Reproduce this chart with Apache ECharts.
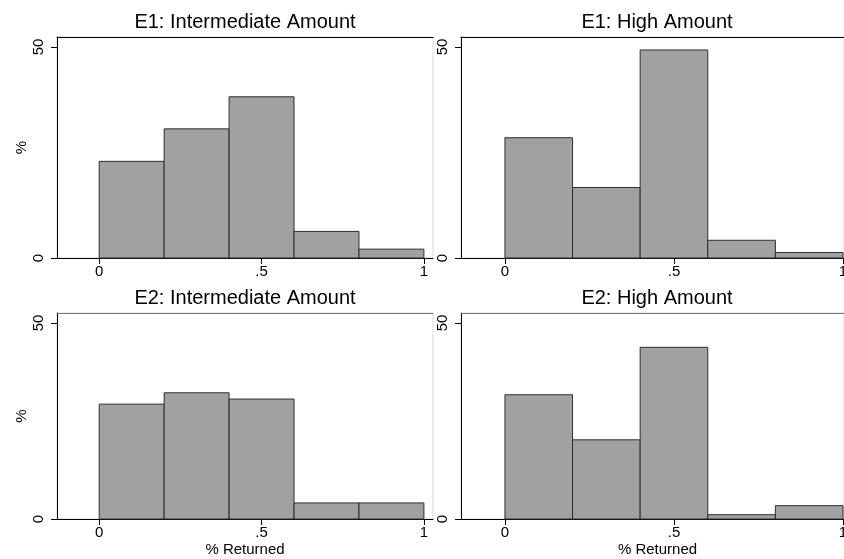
<!DOCTYPE html>
<html><head><meta charset="utf-8">
<script src="https://cdn.jsdelivr.net/npm/echarts@6/dist/echarts.min.js"></script>
<style>html,body{margin:0;padding:0;background:#fff}#c{width:844px;height:559px}</style>
</head><body><div id="c"></div>
<script>
const panelTitles = ['E1: Intermediate Amount', 'E1: High Amount', 'E2: Intermediate Amount', 'E2: High Amount'];
const binEdges = [0, 0.2, 0.4, 0.6, 0.8, 1.0];
const e1Intermediate = [22.9, 30.6, 38.2, 6.3, 2.1];
const e1High = [28.5, 16.7, 49.3, 4.2, 1.3];
const e2Intermediate = [29.3, 32.2, 30.6, 4.1, 4.1];
const e2High = [31.7, 20.2, 43.8, 1.1, 3.4];
const xTickValues = [0, 0.5, 1];
const xTickLabels = ['0', '.5', '1'];
const yTickValues = [0, 50];
const yTickLabels = ['0', '50'];
const yAxisName = '%';
const xAxisName = '% Returned';

const panelData = [e1Intermediate, e1High, e2Intermediate, e2High];
const FONT = 'Liberation Sans, Arial, sans-serif';
const layouts = [
  {left: 57, right: 411, top: 37, bottom: 301, xMax: 1.028, yMax: 52.37, topColor: '#000', showY: true, showX: false, namePad: 0},
  {left: 461, right: 0, top: 37, bottom: 301, xMax: 1.003, yMax: 52.37, topColor: '#000', showY: false, showX: false, namePad: 10},
  {left: 57, right: 411, top: 313, bottom: 40, xMax: 1.028, yMax: 52.55, topColor: '#7a7a7a', showY: true, showX: true, namePad: 0},
  {left: 461, right: 0, top: 313, bottom: 40, xMax: 1.003, yMax: 52.55, topColor: '#7a7a7a', showY: false, showX: true, namePad: 10}
];
const titleCenters = [{x: 245, y: 12}, {x: 657, y: 12}, {x: 245, y: 288}, {x: 657, y: 288}];

function renderItem(params, api) {
  const x0 = api.value(0), x1 = api.value(1), h = api.value(2);
  const p0 = api.coord([x0, 0]);
  const p1 = api.coord([x1, h]);
  return {
    type: 'rect',
    shape: {x: p0[0], y: p1[1], width: p1[0] - p0[0], height: p0[1] - p1[1]},
    style: {fill: '#a1a1a1', stroke: '#2e2e2e', lineWidth: 1}
  };
}

const grids = [], xAxes = [], yAxes = [], series = [], titles = [];
layouts.forEach((L, i) => {
  grids.push({left: L.left, right: L.right, top: L.top, bottom: L.bottom, show: true,
    outerBoundsMode: 'none', containLabel: false,
    borderColor: '#d9d9d9', borderWidth: 1, backgroundColor: 'transparent'});
  titles.push({text: panelTitles[i], left: titleCenters[i].x, top: titleCenters[i].y, textAlign: 'center', padding: 0,
    textStyle: {fontSize: 20, fontWeight: 'normal', color: '#000', fontFamily: FONT}});
  xAxes.push({
    type: 'value', gridIndex: i, min: -0.13, max: L.xMax, position: 'bottom',
    name: L.showX ? xAxisName : '', nameLocation: 'middle', nameGap: 23,
    nameTextStyle: {fontSize: 15, color: '#000', fontFamily: FONT, padding: [0, 0, 0, L.namePad]},
    axisLine: {show: true, onZero: false, lineStyle: {color: '#000', width: 1}},
    axisTick: {show: true, length: 6, customValues: xTickValues, lineStyle: {color: '#000'}},
    axisLabel: {show: true, customValues: xTickValues, margin: 6, fontSize: 15, color: '#000', fontFamily: FONT,
      formatter: v => { const k = xTickValues.findIndex(t => Math.abs(t - v) < 1e-9); return k >= 0 ? xTickLabels[k] : ''; }},
    splitLine: {show: false}
  });
  yAxes.push({
    type: 'value', gridIndex: i, min: 0, max: L.yMax, position: 'left',
    name: L.showY ? yAxisName : '', nameLocation: 'middle', nameGap: 28, nameRotate: 90,
    nameTextStyle: {fontSize: 15, color: '#000', fontFamily: FONT},
    axisLine: {show: true, onZero: false, lineStyle: {color: '#000', width: 1}},
    axisTick: {show: true, length: 6, customValues: yTickValues, lineStyle: {color: '#000'}},
    axisLabel: {show: true, customValues: yTickValues, rotate: 90, margin: 11, fontSize: 15, color: '#000', fontFamily: FONT,
      formatter: v => { const k = yTickValues.findIndex(t => Math.abs(t - v) < 1e-9); return k >= 0 ? yTickLabels[k] : ''; }},
    splitLine: {show: false}
  });
  series.push({
    type: 'custom', xAxisIndex: i, yAxisIndex: i, renderItem: renderItem,
    encode: {x: [0, 1], y: 2},
    data: panelData[i].map((v, k) => [binEdges[k], binEdges[k + 1], v]),
    silent: true
  });
});
layouts.forEach((L, i) => {
  xAxes.push({
    type: 'value', gridIndex: i, min: -0.13, max: L.xMax, position: 'top',
    axisLine: {show: true, onZero: false, lineStyle: {color: L.topColor, width: 1}},
    axisTick: {show: false}, axisLabel: {show: false}, splitLine: {show: false}
  });
});

const chart = echarts.init(document.getElementById('c'), null, {renderer: 'canvas'});
chart.setOption({
  animation: false,
  backgroundColor: '#fff',
  title: titles,
  grid: grids,
  xAxis: xAxes,
  yAxis: yAxes,
  series: series
});
</script>
</body></html>
